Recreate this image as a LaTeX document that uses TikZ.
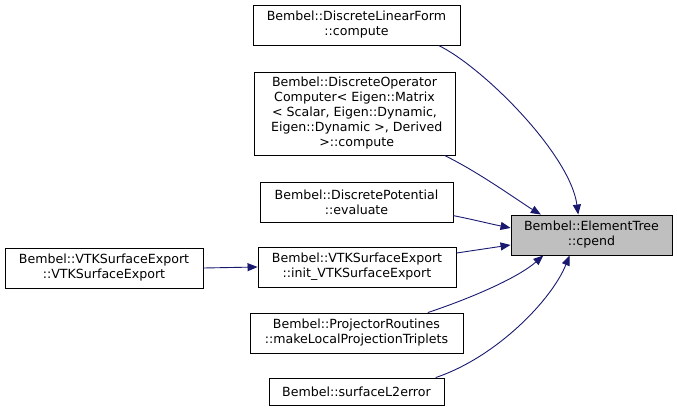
\documentclass[tikz,border=0pt]{standalone}
\usepackage{fontspec}
\setmainfont{DejaVu Sans}
\usetikzlibrary{arrows.meta}
\definecolor{edgeblue}{HTML}{191970}
\definecolor{hilite}{HTML}{BFBFBF}
\tikzset{
  box/.style={draw=black, fill=white, line width=0.9pt, align=center, inner sep=0pt,
    font=\fontsize{12.6}{15}\selectfont},
  edge/.style={draw=edgeblue, line width=0.9pt, -{Triangle[length=10pt,width=8pt]}},
}
\begin{document}
\begin{tikzpicture}[x=1pt,y=-1pt]
\useasboundingbox (0,0) rectangle (677,410);
\node[box, minimum width=207pt, minimum height=40pt] (A) at (356.5,25) {Bembel::DiscreteLinearForm\\::compute};
\node[box, minimum width=201pt, minimum height=83pt] (B) at (354.5,113.5) {Bembel::DiscreteOperator\\Computer< Eigen::Matrix\\< Scalar, Eigen::Dynamic,\\\hspace*{0.35em}Eigen::Dynamic >, Derived\\\hspace*{0.35em}>::compute};
\node[box, minimum width=193pt, minimum height=40pt] (C) at (356.5,202) {Bembel::DiscretePotential\\::evaluate};
\node[box, minimum width=198pt, minimum height=40pt] (D) at (357,267) {Bembel::VTKSurfaceExport\\::init\_VTKSurfaceExport};
\node[box, minimum width=213pt, minimum height=40pt] (E) at (356.5,333) {Bembel::ProjectorRoutines\\::makeLocalProjectionTriplets};
\node[box, minimum width=175pt, minimum height=27pt] (F) at (356.5,391.5) {Bembel::surfaceL2error};
\node[box, minimum width=198pt, minimum height=40pt] (G) at (104,268) {Bembel::VTKSurfaceExport\\::VTKSurfaceExport};
\node[box, fill=hilite, minimum width=161pt, minimum height=40pt] (H) at (591.5,235) {Bembel::ElementTree\\::cpend};

\draw[edge] (A.-14) .. controls +(45,22) and +(-8,-60) .. (H.123);
\draw[edge] (B.-25) .. controls +(35,17) and +(-20,-12) .. (H.158);
\draw[edge] (C.-8) .. controls +(20,4) and +(-20,-4) .. (H.175);
\draw[edge] (D.8) .. controls +(20,-3) and +(-20,3) .. (H.187);
\draw[edge] (E.16) .. controls +(45,-15) and +(-25,22) .. (H.203);
\draw[edge] (F.10) .. controls +(60,-20) and +(-18,45) .. (H.223);
\draw[edge] (G.east) -- (D.west);
\end{tikzpicture}
\end{document}
